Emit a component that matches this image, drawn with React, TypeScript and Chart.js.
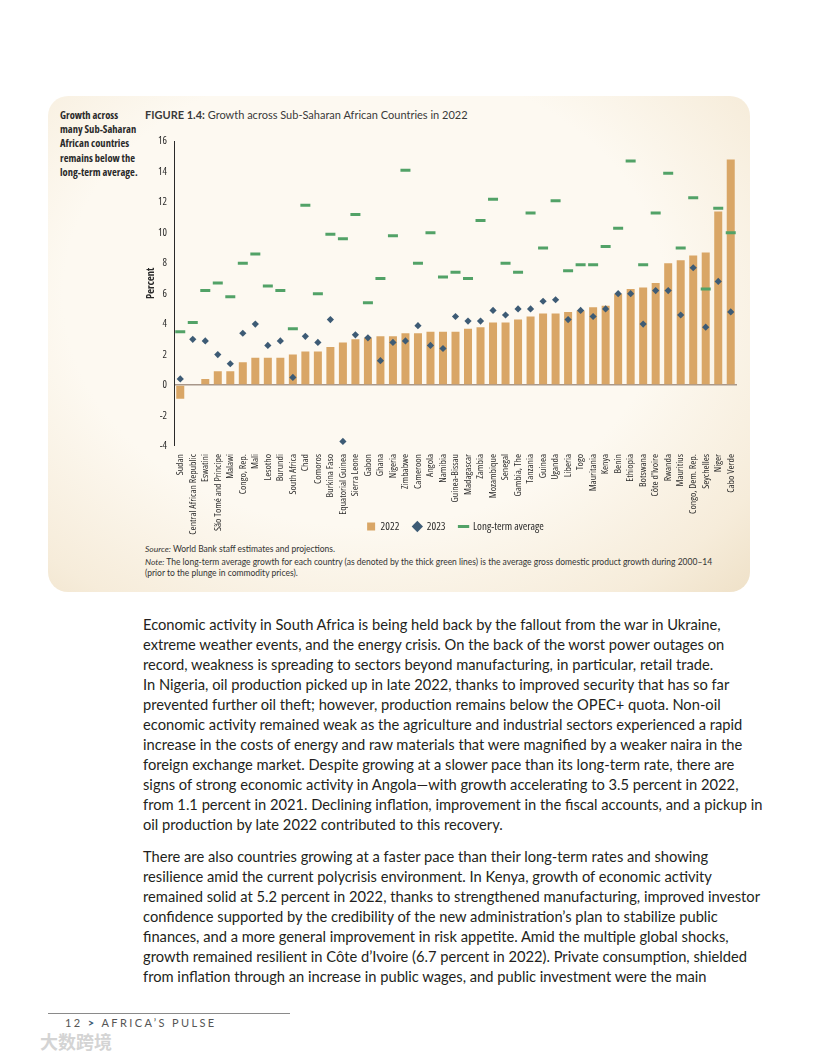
import React, { useEffect, useRef } from "react";
import { Chart, registerables } from "chart.js";

Chart.register(...registerables);

const categories = [
  "Sudan", "Central African Republic", "Eswatini", "São Tomé and Principe", "Malawi",
  "Congo, Rep.", "Mali", "Lesotho", "Burundi", "South Africa",
  "Chad", "Comoros", "Burkina Faso", "Equatorial Guinea", "Sierra Leone",
  "Gabon", "Ghana", "Nigeria", "Zimbabwe", "Cameroon",
  "Angola", "Namibia", "Guinea-Bissau", "Madagascar", "Zambia",
  "Mozambique", "Senegal", "Gambia, The", "Tanzania", "Guinea",
  "Uganda", "Liberia", "Togo", "Mauritania", "Kenya",
  "Benin", "Ethiopia", "Botswana", "Côte d'Ivoire", "Rwanda",
  "Mauritius", "Congo, Dem. Rep.", "Seychelles", "Niger", "Cabo Verde",
];

const values2022 = [
  -0.9, 0.0, 0.4, 0.9, 0.9,
  1.5, 1.8, 1.8, 1.8, 2.0,
  2.2, 2.2, 2.5, 2.8, 3.0,
  3.1, 3.2, 3.2, 3.4, 3.4,
  3.5, 3.5, 3.5, 3.7, 3.8,
  4.1, 4.1, 4.3, 4.5, 4.7,
  4.7, 4.8, 4.9, 5.1, 5.2,
  6.0, 6.3, 6.4, 6.7, 8.0,
  8.2, 8.5, 8.7, 11.4, 14.8,
];

const values2023 = [
  0.4, 3.0, 2.9, 2.0, 1.4,
  3.4, 4.0, 2.6, 2.9, 0.5,
  3.2, 2.8, 4.3, -3.7, 3.3,
  3.1, 1.6, 2.8, 2.9, 3.9,
  2.6, 2.4, 4.5, 4.2, 4.2,
  4.9, 4.6, 5.0, 5.0, 5.5,
  5.6, 4.3, 4.9, 4.5, 5.0,
  6.0, 6.0, 4.0, 6.2, 6.2,
  4.6, 7.7, 3.8, 6.8, 4.8,
];

const longTermAvg = [
  3.5, 4.1, 6.2, 6.7, 5.8,
  8.0, 8.6, 6.5, 6.2, 3.7,
  11.8, 6.0, 9.9, 9.6, 11.2,
  5.4, 7.0, 9.8, 14.1, 8.0,
  10.0, 7.1, 7.4, 7.0, 10.8,
  12.2, 8.0, 7.4, 11.3, 9.0,
  12.1, 7.5, 7.9, 7.9, 9.1,
  10.3, 14.7, 7.9, 11.3, 13.9,
  9.0, 12.3, 6.3, 11.6, 10.0,
];

const seriesNames = ["2022", "2023", "Long-term average"];
const yMin = -4;
const yMax = 16;
const yStep = 2;

const bodyPara1 = [
  "Economic activity in South Africa is being held back by the fallout from the war in Ukraine,",
  "extreme weather events, and the energy crisis. On the back of the worst power outages on",
  "record, weakness is spreading to sectors beyond manufacturing, in particular, retail trade.",
  "In Nigeria, oil production picked up in late 2022, thanks to improved security that has so far",
  "prevented further oil theft; however, production remains below the OPEC+ quota. Non-oil",
  "economic activity remained weak as the agriculture and industrial sectors experienced a rapid",
  "increase in the costs of energy and raw materials that were magnified by a weaker naira in the",
  "foreign exchange market. Despite growing at a slower pace than its long-term rate, there are",
  "signs of strong economic activity in Angola—with growth accelerating to 3.5 percent in 2022,",
  "from 1.1 percent in 2021. Declining inflation, improvement in the fiscal accounts, and a pickup in",
  "oil production by late 2022 contributed to this recovery.",
];

const bodyPara2 = [
  "There are also countries growing at a faster pace than their long-term rates and showing",
  "resilience amid the current polycrisis environment. In Kenya, growth of economic activity",
  "remained solid at 5.2 percent in 2022, thanks to strengthened manufacturing, improved investor",
  "confidence supported by the credibility of the new administration’s plan to stabilize public",
  "finances, and a more general improvement in risk appetite. Amid the multiple global shocks,",
  "growth remained resilient in Côte d’Ivoire (6.7 percent in 2022). Private consumption, shielded",
  "from inflation through an increase in public wages, and public investment were the main",
];

const sideNote = [
  "Growth across",
  "many Sub-Saharan",
  "African countries",
  "remains below the",
  "long-term average.",
];

const COND = "'Open Sans', 'Noto Sans', sans-serif";
const BAR_COLOR = "#d9a666";
const DIAMOND_COLOR = "#3d5b75";
const GREEN = "#52a267";
const INK = "#2a2a2a";

function GrowthChart() {
  const ref = useRef<HTMLCanvasElement | null>(null);
  useEffect(() => {
    if (!ref.current) return;
    const chart = new Chart(ref.current, {
      type: "bar",
      data: {
        labels: categories,
        datasets: [
          {
            type: "bar",
            label: seriesNames[0],
            data: values2022,
            backgroundColor: BAR_COLOR,
            borderWidth: 0,
            barPercentage: 0.64,
            categoryPercentage: 1,
            order: 3,
            pointStyle: "rect",
          } as any,
          {
            type: "line",
            label: seriesNames[1],
            data: values2023,
            showLine: false,
            pointStyle: "rectRot",
            pointRadius: 3.6,
            pointBackgroundColor: DIAMOND_COLOR,
            pointBorderColor: DIAMOND_COLOR,
            backgroundColor: DIAMOND_COLOR,
            borderColor: DIAMOND_COLOR,
            borderWidth: 0,
            order: 1,
          } as any,
          {
            type: "line",
            label: seriesNames[2],
            data: longTermAvg,
            showLine: false,
            pointStyle: "line",
            pointRadius: 5,
            pointBorderWidth: 3,
            pointBorderColor: GREEN,
            backgroundColor: GREEN,
            borderColor: GREEN,
            borderWidth: 3,
            order: 2,
          } as any,
        ],
      },
      options: {
        animation: false,
        responsive: false,
        maintainAspectRatio: false,
        layout: { padding: { top: 12, right: 39, left: 0, bottom: 0 } },
        plugins: {
          tooltip: { enabled: false },
          legend: {
            position: "bottom",
            fullSize: false,
            labels: {
              usePointStyle: true,
              boxHeight: 8,
              boxWidth: 8,
              padding: 14,
              color: INK,
              font: { family: COND, size: 11, weight: "condensed 400" },
              sort: (a: any, b: any) => a.datasetIndex - b.datasetIndex,
            },
          },
        },
        scales: {
          x: {
            grid: { display: false },
            border: { display: false },
            ticks: {
              autoSkip: false,
              maxRotation: 90,
              minRotation: 90,
              padding: 0,
              color: INK,
              font: { family: COND, size: 9.8, weight: "condensed 400" },
            },
            afterFit: (scale: any) => {
              scale.height = 61;
              scale._computeLabelArea = () => undefined;
            },
          },
          y: {
            min: yMin,
            max: yMax,
            ticks: {
              stepSize: yStep,
              padding: 7,
              color: INK,
              font: { family: COND, size: 10.5, weight: "condensed 400" },
            },
            grid: {
              drawTicks: false,
              color: (ctx: any) => (ctx.tick && ctx.tick.value === 0 ? "#a8978a" : "rgba(0,0,0,0)"),
              lineWidth: (ctx: any) => (ctx.tick && ctx.tick.value === 0 ? 1.5 : 0),
            },
            border: { display: true, color: INK, width: 1 },
            title: {
              display: true,
              text: "\u00A0".repeat(11) + "Percent",
              color: INK,
              padding: { top: 9, bottom: 0 },
              font: { family: COND, size: 10.5, weight: "condensed 700" },
            },
            afterFit: (scale: any) => {
              scale.width = 38;
            },
          },
        },
      } as any,
    });
    return () => chart.destroy();
  }, []);
  return (
    <canvas
      ref={ref}
      width={640}
      height={414}
      style={{ position: "absolute", left: 136, top: 128, width: 640, height: 414 }}
    />
  );
}

export default function App() {
  const bodyFont = "Lato, 'Open Sans', sans-serif";
  const lineStyle: React.CSSProperties = { whiteSpace: "nowrap", height: 20, lineHeight: "20px" };
  return (
    <div
      style={{
        position: "absolute",
        left: 0,
        top: 0,
        width: 816,
        height: 1056,
        background: "#ffffff",
        overflow: "hidden",
        fontFamily: bodyFont,
      }}
    >
      {/* card */}
      <div
        style={{
          position: "absolute",
          left: 48,
          top: 96,
          width: 702,
          height: 496,
          borderRadius: 20,
          background: "radial-gradient(ellipse at 45% 40%, #fdf9f1 55%, #f6ecda 85%, #efe1c8 100%)",
        }}
      />
      {/* side note */}
      <div style={{ position: "absolute", left: 60, top: 108, fontFamily: COND, fontStretch: "condensed", fontWeight: 700, fontSize: 10.5, color: INK, lineHeight: "14.2px" }}>
        {sideNote.map((t, i) => (
          <div key={i} style={{ whiteSpace: "nowrap" }}>{t}</div>
        ))}
      </div>
      {/* title */}
      <div style={{ position: "absolute", left: 145, top: 108, fontSize: 11, color: "#3a3a3a", whiteSpace: "nowrap", fontFamily: "Lato, sans-serif" }}>
        <span style={{ fontWeight: "bold" }}>FIGURE 1.4:</span> Growth across Sub-Saharan African Countries in 2022
      </div>
      <GrowthChart />
      {/* source & note */}
      <div style={{ position: "absolute", left: 145, top: 544, fontSize: 8.5, color: "#333", lineHeight: "11px", fontFamily: "Lato, sans-serif" }}>
        <div style={{ whiteSpace: "nowrap", marginBottom: 2 }}>
          <i>Source:</i> World Bank staff estimates and projections.
        </div>
        <div style={{ whiteSpace: "nowrap" }}>
          <i>Note:</i> The long-term average growth for each country (as denoted by the thick green lines) is the average gross domestic product growth during 2000–14
        </div>
        <div style={{ whiteSpace: "nowrap" }}>(prior to the plunge in commodity prices).</div>
      </div>
      {/* body text */}
      <div style={{ position: "absolute", left: 143, top: 614, fontSize: 14.7, color: "#231f20", fontFamily: bodyFont }}>
        {bodyPara1.map((t, i) => (
          <div key={i} style={lineStyle}>{t}</div>
        ))}
        <div style={{ height: 12 }} />
        {bodyPara2.map((t, i) => (
          <div key={i} style={lineStyle}>{t}</div>
        ))}
      </div>
      {/* footer */}
      <div style={{ position: "absolute", left: 48, top: 1013, width: 242, height: 1, background: "#8a8a8a" }} />
      <div style={{ position: "absolute", left: 65, top: 1016, fontSize: 11, color: "#555", letterSpacing: 2.4, whiteSpace: "nowrap", fontFamily: "Lato, sans-serif" }}>
        12 <span style={{ color: "#3d5b75", fontWeight: "bold" }}>&gt;</span> AFRICA’S PULSE
      </div>
      <div style={{ position: "absolute", left: 40, top: 1028, fontSize: 18, color: "#d4d4d4", fontWeight: "bold", fontFamily: "'Noto Sans CJK SC', sans-serif", whiteSpace: "nowrap" }}>
        大数跨境
      </div>
    </div>
  );
}
